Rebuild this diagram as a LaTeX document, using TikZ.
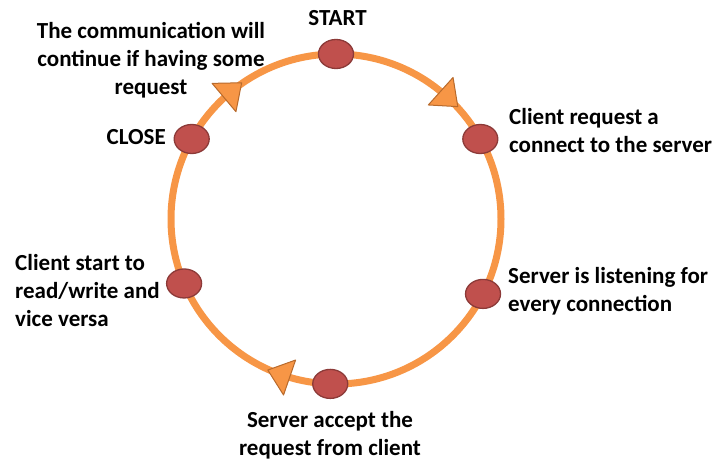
\documentclass[tikz,border=0pt]{standalone}
\usepackage{fontspec}
\setmainfont{Carlito}
\usetikzlibrary{shapes.geometric}
\definecolor{ringorange}{HTML}{F79646}
\definecolor{dotred}{HTML}{C0504D}
\definecolor{dotrim}{HTML}{8C3A38}
\definecolor{tiprim}{HTML}{B86A2C}

\begin{document}
\begin{tikzpicture}[x=1pt,y=1pt,
    stage/.style={ellipse,draw=dotrim,fill=dotred,line width=1.3pt,minimum width=35pt,minimum height=29pt,inner sep=0pt},
    flowtip/.style={fill=ringorange,draw=tiprim,line width=1pt,line join=round},
    caption/.style={font=\fontsize{23}{28}\selectfont\bfseries,inner sep=0pt}]
\useasboundingbox (0,0) rectangle (715,463);
\coordinate (centre) at (336,244);
\draw[ringorange,line width=7pt] (centre) circle (165pt);

% Triangles showing which way the cycle runs
\foreach \ang in {48,130,251}
    \draw[flowtip,shift={(centre)},rotate=\ang] (146.5,7.7) -- (165,-15.3) -- (183.5,7.7) -- cycle;

% Stages on the ring
\foreach \ang/\name in {90/start,29/request,-27/listen,-92/accept,203/rw,151/close}
    \node[stage] (\name) at ([shift={(\ang:165pt)}]centre) {};

% Labels of the stages (base = last line)
\node[caption,anchor=base] (startlbl) at (337.5,437) {START};
\node[caption,anchor=base,align=center] (againlbl) at (151,368) {The communication will\\continue if having some\\request};
\node[caption,anchor=base east] (closelbl) at (166,318) {CLOSE};
\node[caption,anchor=base west,align=left] (requestlbl) at (509,310) {Client request a\\connect to the server};
\node[caption,anchor=base west,align=left] (listenlbl) at (508,151) {Server is listening for\\every connection};
\node[caption,anchor=base west,align=left] (rwlbl) at (15,136) {Client start to\\read/write and\\vice versa};
\node[caption,anchor=base,align=center] (acceptlbl) at (330,7) {Server accept the\\request from client};
\end{tikzpicture}
\end{document}
